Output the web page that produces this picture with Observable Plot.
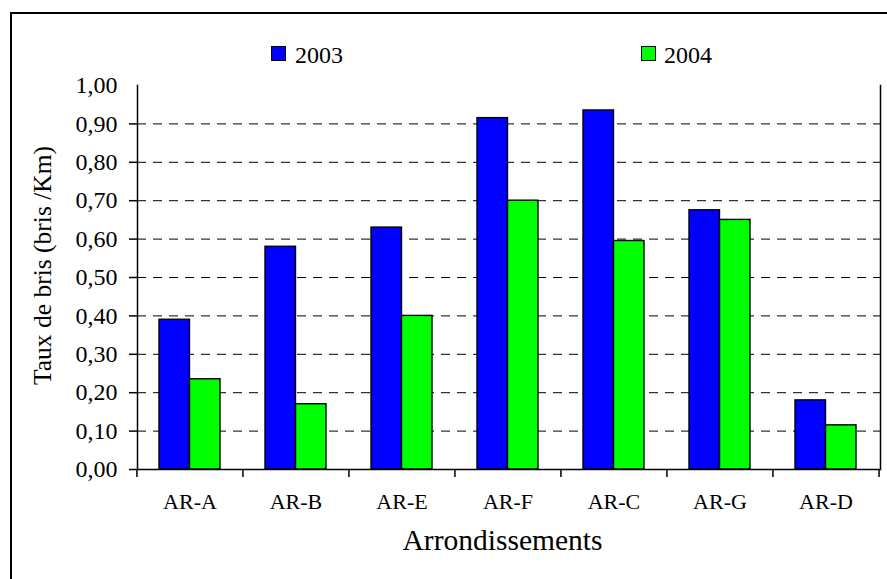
<!DOCTYPE html>
<html>
<head>
<meta charset="utf-8">
<script src="https://cdn.jsdelivr.net/npm/d3@7"></script>
<script src="https://cdn.jsdelivr.net/npm/@observablehq/plot@0.6"></script>
<style>
html, body { margin: 0; padding: 0; background: #fff; overflow: hidden; }
#wrap { position: relative; width: 887px; height: 579px; overflow: hidden; font-family: "Liberation Serif", serif; background: #fff; }
#chart { position: absolute; left: 0; top: 0; }
#border { position: absolute; left: 10px; top: 12px; width: 900px; height: 600px; border-top: 2px solid #000; border-left: 2px solid #000; box-sizing: border-box; pointer-events: none; }
.lg-sw { position: absolute; width: 13px; height: 13px; border: 1px solid #000; }
.lg-tx { position: absolute; font-family: "Liberation Serif", serif; font-size: 24px; line-height: 24px; color: #000; white-space: nowrap; }
</style>
</head>
<body>
<div id="wrap">
  <div id="chart"></div>
  <div id="legend"></div>
  <div id="border"></div>
</div>
<script>
// ---- data ----
const categories = ["AR-A", "AR-B", "AR-E", "AR-F", "AR-C", "AR-G", "AR-D"];
const values2003 = [0.39, 0.58, 0.63, 0.915, 0.935, 0.675, 0.18];
const values2004 = [0.235, 0.17, 0.40, 0.70, 0.595, 0.65, 0.115];
const seriesNames = ["2003", "2004"];
const seriesColors = ["#0000FF", "#00FF00"];
const yTicks = [0, 0.1, 0.2, 0.3, 0.4, 0.5, 0.6, 0.7, 0.8, 0.9, 1.0];
const gridTicks = [0.1, 0.2, 0.3, 0.4, 0.5, 0.6, 0.7, 0.8, 0.9];
const yTitle = "Taux de bris (bris /Km)";
const xTitle = "Arrondissements";

// ---- layout ----
const W = 887, H = 579;
const ML = 137, MR = 7, MT = 85, MB = 110;
const padInner = 0.425;
const step = (W - ML - MR) / categories.length;
const halfBand = step * (1 - padInner) / 2;
const FONT = "Liberation Serif";

const rows = categories.map((c, i) => ({category: c, v2003: values2003[i], v2004: values2004[i]}));
const fmt = v => v.toFixed(2).replace(".", ",");

const chart = Plot.plot({
  width: W,
  height: H,
  marginLeft: ML,
  marginRight: MR,
  marginTop: MT,
  marginBottom: MB,
  style: {fontFamily: FONT, color: "#000", background: "transparent", overflow: "visible"},
  x: {domain: categories, paddingInner: padInner, paddingOuter: padInner / 2, align: 0.472},
  y: {domain: [0, 1]},
  marks: [
    Plot.ruleY(gridTicks, {stroke: "#000", strokeWidth: 1, strokeDasharray: "9,7"}),
    Plot.barY(rows, {x: "category", y: "v2003", fill: seriesColors[0], stroke: "#000", strokeWidth: 1.4, insetRight: halfBand}),
    Plot.barY(rows, {x: "category", y: "v2004", fill: seriesColors[1], stroke: "#000", strokeWidth: 1.4, insetLeft: halfBand}),
    Plot.ruleY([0], {stroke: "#000", strokeWidth: 1.5}),
    Plot.frame({anchor: "left", stroke: "#000", strokeWidth: 1.5}),
    Plot.frame({anchor: "right", stroke: "#000", strokeWidth: 1.5}),
    Plot.ruleX(categories, {x: d => d, y1: 0, y2: 0, insetBottom: -8, dx: -step / 2, stroke: "#000", strokeWidth: 1.5}),
    Plot.ruleX(categories.slice(-1), {x: d => d, y1: 0, y2: 0, insetBottom: -8, dx: step / 2, stroke: "#000", strokeWidth: 1.5}),
    Plot.axisY(yTicks.slice(0, -1), {tickSize: 8, tickPadding: 12, tickFormat: fmt, fontSize: 24, fontFamily: FONT, label: null, strokeWidth: 1.5}),
    Plot.axisY(yTicks.slice(-1), {tickSize: 0, tickPadding: 20, tickFormat: fmt, fontSize: 24, fontFamily: FONT, label: null}),
    Plot.axisX({tickSize: 0, tickPadding: 24, fontSize: 22, fontFamily: FONT, label: null}),
    Plot.text([yTitle], {frameAnchor: "left", textAnchor: "middle", lineAnchor: "middle", rotate: -90, dx: -95, dy: -12, fontSize: 25.5, fontFamily: FONT, fill: "#000"}),
    Plot.text([xTitle], {frameAnchor: "bottom", textAnchor: "middle", lineAnchor: "middle", dx: -6.5, dy: 70.7, fontSize: 29.5, fontFamily: FONT, fill: "#000"})
  ]
});
document.getElementById("chart").appendChild(chart);

// ---- legend ----
const legendPos = [{sw: 271, tx: 295}, {sw: 641, tx: 664}];
const legend = document.getElementById("legend");
seriesNames.forEach((name, i) => {
  const sw = document.createElement("div");
  sw.className = "lg-sw";
  sw.style.left = legendPos[i].sw + "px";
  sw.style.top = "46px";
  sw.style.background = seriesColors[i];
  legend.appendChild(sw);
  const tx = document.createElement("div");
  tx.className = "lg-tx";
  tx.style.left = legendPos[i].tx + "px";
  tx.style.top = "43px";
  tx.textContent = name;
  legend.appendChild(tx);
});
</script>
</body>
</html>
